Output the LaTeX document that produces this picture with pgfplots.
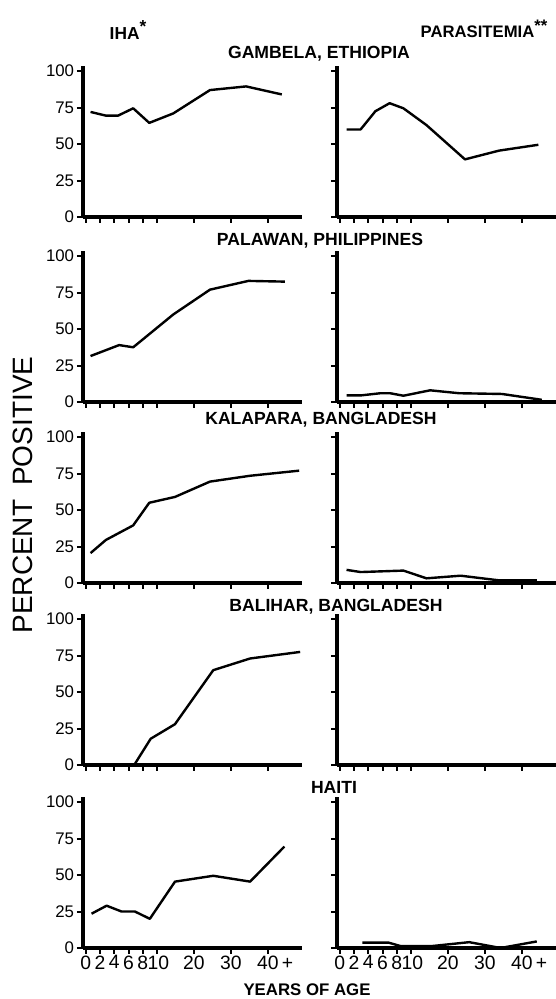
\documentclass[border=0pt]{standalone}
\usepackage{fontspec}
\setmainfont{Liberation Sans}
\usepackage{pgfplots}
\pgfplotsset{compat=1.18}
\newlength\px \setlength\px{0.75pt}

% age axis: 0..10 yrs -> 0..5 units, then 2.6 units per decade
\pgfplotsset{
  panel/.style={
    scale only axis, width=219\px, height=151\px,
    xmin=-0.2, xmax=15.2, ymin=0, ymax=103.5,
    axis x line=bottom, axis y line=left,
    axis line style={line width=3pt,-},
    tick align=outside, major tick length=6\px,
    tick style={line width=1.5pt,black},
    xtick={0,1,2,3,4,5,7.6,10.2,12.8},
    ytick={0,25,50,75,100},
    xticklabels={},
    /pgf/number format/assume math mode=true,
    yticklabel style={font=\fontsize{12.6}{12.6}\selectfont, inner sep=2pt},
    xticklabel style={font=\fontsize{14.5}{14.5}\selectfont, inner sep=1pt},
    anchor=south west, clip=false,
  },
  right panel/.style={panel, yticklabels={}},
  bottom panel/.style={xticklabels={0,2,4,6,8,\hspace*{3\px}10,20,30,40\rlap{\,+}}},
  curve/.style={black, line width=1.8pt, line join=round, no marks},
}

\begin{document}
\begin{tikzpicture}
\useasboundingbox (0,0) rectangle (556\px,999\px);

% Gambela, Ethiopia
\begin{axis}[panel, at={(83\px,782\px)}]
\addplot[curve] coordinates {(0.33,72) (1.4,69.5) (2.27,69.5) (3.33,74.5) (4.46,64.5) (6.15,71) (8.73,87) (11.27,89.5) (13.78,84)};
\end{axis}
\begin{axis}[right panel, at={(337\px,782\px)}]
\addplot[curve] coordinates {(0.47,60) (1.46,60) (2.5,72.5) (3.5,78) (4.47,74.5) (6.09,63) (8.8,39.5) (11.2,45.5) (13.96,49.5)};
\end{axis}

% Palawan, Philippines
\begin{axis}[panel, at={(83\px,597\px)}]
\addplot[curve] coordinates {(0.33,31.5) (2.34,39) (3.33,37.5) (4.27,45) (6.15,60) (8.73,77) (11.43,83) (14.0,82.5)};
\end{axis}
\begin{axis}[right panel, at={(337\px,597\px)}]
\addplot[curve] coordinates {(0.47,4.5) (1.46,4.5) (2.85,6) (3.54,6) (4.47,4.3) (6.35,8) (8.4,6) (11.4,5.5) (14.2,1.5)};
\end{axis}

% Kalapara, Bangladesh
\begin{axis}[panel, at={(83\px,416\px)}]
\addplot[curve] coordinates {(0.33,20.5) (1.41,29.5) (3.33,39.5) (4.46,55) (6.27,59) (8.73,69.5) (11.55,73.5) (15.0,77)};
\end{axis}
\begin{axis}[right panel, at={(337\px,416\px)}]
\addplot[curve] coordinates {(0.47,9) (1.46,7.5) (4.47,8.5) (6.09,3.2) (8.5,5) (11.2,1.8) (13.85,1.8)};
\end{axis}

% Balihar, Bangladesh
\begin{axis}[panel, at={(83\px,234\px)}]
\addplot[curve] coordinates {(0.33,0) (3.4,0) (4.56,18) (6.27,28) (8.96,65) (11.55,73) (15.07,77.5)};
\end{axis}
\begin{axis}[right panel, at={(337\px,234\px)}]
\end{axis}

% Haiti
\begin{axis}[panel, bottom panel, at={(83\px,51\px)}]
\addplot[curve] coordinates {(0.4,23.5) (1.46,29) (2.51,25) (3.45,25) (4.5,20) (6.27,45.5) (8.96,49.5) (11.55,45.5) (13.96,69.5)};
\end{axis}
\begin{axis}[right panel, bottom panel, at={(337\px,51\px)}]
\addplot[curve] coordinates {(1.58,3.7) (3.42,3.7) (4.24,1.4) (6.55,1.4) (9.1,4) (11.3,0) (13.85,4.5)};
\end{axis}

% titles and labels
\tikzset{ttl/.style={font=\bfseries\fontsize{13.2}{13.2}\selectfont, inner sep=0pt}}
\node[ttl, font=\bfseries\fontsize{13}{13}\selectfont] at (128\px,969\px) {IHA\raisebox{5pt}{*}};
\node[ttl, font=\bfseries\fontsize{12.5}{12.5}\selectfont] at (484\px,970\px) {PARASITEMIA\raisebox{4pt}{**}};
\node[ttl] at (319\px,945.5\px) {GAMBELA, ETHIOPIA};
\node[ttl] at (320\px,758.5\px) {PALAWAN, PHILIPPINES};
\node[ttl] at (321\px,579\px) {KALAPARA, BANGLADESH};
\node[ttl] at (336\px,392\px) {BALIHAR, BANGLADESH};
\node[ttl] at (334\px,212\px) {HAITI};
\node[ttl, font=\bfseries\fontsize{12.6}{12.6}\selectfont] at (307\px,9\px) {YEARS OF AGE};
\node[font=\fontsize{21}{21}\selectfont, rotate=90, inner sep=0pt] at (23\px,504\px) {PERCENT\hspace{0.5em}POSITIVE};
\end{tikzpicture}
\end{document}
